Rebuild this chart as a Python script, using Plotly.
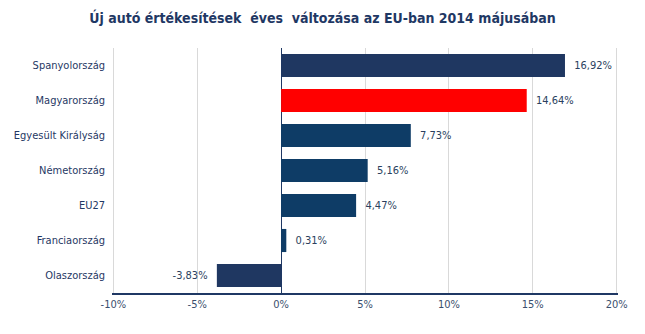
import plotly.graph_objects as go

categories = ["Spanyolország", "Magyarország", "Egyesült Királyság", "Németország", "EU27", "Franciaország", "Olaszország"]
values = [16.92, 14.64, 7.73, 5.16, 4.47, 0.31, -3.83]
bar_colors = ["#1f3761", "#ff0000", "#0e3c66", "#0e3c66", "#0e3c66", "#0e3c66", "#1f3761"]
tick_vals = [-10, -5, 0, 5, 10, 15, 20]
tick_text = ["-10%", "-5%", "0%", "5%", "10%", "15%", "20%"]

labels = []
for v in values:
    s = f"{v:.2f}%".replace(".", ",")
    labels.append("\u00a0\u00a0" + s if v >= 0 else s + "\u00a0\u00a0")

font_family = "DejaVu Sans Condensed, DejaVu Sans, sans-serif"

fig = go.Figure(go.Bar(
    y=categories,
    x=values,
    orientation="h",
    marker=dict(color=bar_colors, line=dict(width=0)),
    text=labels,
    textposition="outside",
    textfont=dict(size=11, color="#2b3f5e", family=font_family),
    cliponaxis=False,
))

fig.update_layout(
    width=645, height=334,
    margin=dict(l=112, r=27, t=48, b=41),
    paper_bgcolor="white", plot_bgcolor="white",
    bargap=0.34,
    showlegend=False,
    title=dict(
        text="<b>Új autó értékesítések  éves  változása az EU-ban 2014 májusában</b>",
        x=0.5, xanchor="center", y=0.945, yanchor="middle",
        font=dict(size=14, color="#1f3864", family=font_family),
    ),
    font=dict(family=font_family, size=11, color="#1f3864"),
)

fig.update_xaxes(
    range=[-10.08, 20.08],
    tickvals=tick_vals, ticktext=tick_text,
    showgrid=True, gridcolor="#d9d9d9", gridwidth=1,
    zeroline=True, zerolinecolor="#1f3864", zerolinewidth=1.2,
    showline=True, linecolor="#1f3864", linewidth=1.5,
    ticks="", tickfont=dict(size=11, color="#3a4f6e"),
    fixedrange=True,
)
fig.update_yaxes(
    autorange="reversed",
    showgrid=False, zeroline=False, showline=False,
    ticks="", ticklabelstandoff=6,
    tickfont=dict(size=11, color="#1f3864"),
)

fig.write_html("out.html")
